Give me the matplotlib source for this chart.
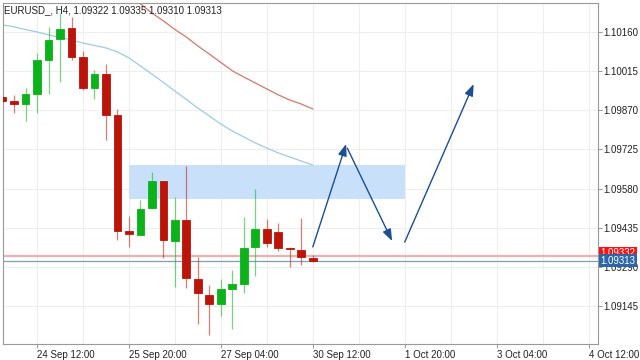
import matplotlib
matplotlib.use('Agg')
import matplotlib.pyplot as plt
from matplotlib.patches import FancyArrowPatch, Rectangle
import numpy as np

plt.rcParams['font.family'] = ['Liberation Sans', 'DejaVu Sans']

# H4 candles, bar index relative to 24 Sep 12:00
idx = list(range(-3, 25))
opens = [1.09919, 1.09904, 1.09893, 1.09930, 1.10056, 1.10134, 1.10175, 1.10067,
         1.09953, 1.10004, 1.09853, 1.09423, 1.09408, 1.09508, 1.09608, 1.09386,
         1.09464, 1.09245, 1.09186, 1.09152, 1.09208, 1.09227, 1.09364, 1.09430,
         1.09419, 1.09360, 1.09352, 1.09322]
highs = [1.09923, 1.09927, 1.09953, 1.10082, 1.10179, 1.10230, 1.10216, 1.10090,
         1.10019, 1.10041, 1.09875, 1.09478, 1.09538, 1.09641, 1.09608, 1.09549,
         1.09664, 1.09327, 1.09223, 1.09245, 1.09278, 1.09475, 1.09578, 1.09467,
         1.09453, 1.09364, 1.09471, 1.09335]
lows = [1.09901, 1.09860, 1.09830, 1.09860, 1.09930, 1.09975, 1.10056, 1.09945,
        1.09912, 1.09760, 1.09390, 1.09364, 1.09408, 1.09508, 1.09323, 1.09215,
        1.09212, 1.09078, 1.09038, 1.09108, 1.09060, 1.09193, 1.09256, 1.09364,
        1.09349, 1.09290, 1.09297, 1.09310]
closes = [1.09904, 1.09893, 1.09930, 1.10056, 1.10130, 1.10171, 1.10067, 1.09953,
          1.10004, 1.09853, 1.09423, 1.09412, 1.09504, 1.09608, 1.09390, 1.09464,
          1.09249, 1.09193, 1.09152, 1.09208, 1.09227, 1.09360, 1.09430, 1.09378,
          1.09360, 1.09356, 1.09327, 1.09313]

# moving averages
ma_fast = [1.10186, 1.10179, 1.10169, 1.10160, 1.10149, 1.10140, 1.10130, 1.10119,
           1.10110, 1.10101, 1.10086, 1.10064, 1.10034, 1.10004, 1.09973, 1.09941,
           1.09910, 1.09878, 1.09849, 1.09819, 1.09793, 1.09771, 1.09749, 1.09730,
           1.09712, 1.09697, 1.09682, 1.09667]
ma_slow_idx = list(range(8, 25))
ma_slow = [1.10293, 1.10264, 1.10230, 1.10201, 1.10169, 1.10141, 1.10108, 1.10078,
           1.10047, 1.10016, 1.09993, 1.09971, 1.09949, 1.09927, 1.09908, 1.09893,
           1.09875]

ask = 1.09332
bid = 1.09313

# zone and projected path
zone_x = (8, 32)
zone_y = (1.09541, 1.09667)
arrows = [((24.0, 1.09364), (26.9, 1.09745)),
          ((27.0, 1.09730), (30.9, 1.09386)),
          ((32.0, 1.09382), (38.0, 1.09967))]

yticks = [1.09145, 1.09290, 1.09435, 1.09580, 1.09725, 1.09870, 1.10015, 1.10160]
xtick_pos = [0, 8, 16, 24, 32, 40, 48]
xtick_labels = ['24 Sep 12:00', '25 Sep 20:00', '27 Sep 04:00', '30 Sep 12:00',
                '1 Oct 20:00', '3 Oct 04:00', '4 Oct 12:00']

green = '#0cb21a'
red = '#bb1408'

fig = plt.figure(figsize=(6.4, 3.6), dpi=100)
ax = fig.add_axes([0.004, 0.044, 0.93, 0.949])

# grid
for gx in range(-4, 49, 4):
    ax.axvline(gx, color='#eeeeee', lw=0.8, zorder=0)
for gy in yticks:
    ax.axhline(gy, color='#eeeeee', lw=0.8, zorder=0)

ax.add_patch(Rectangle((zone_x[0], zone_y[0]), zone_x[1] - zone_x[0], zone_y[1] - zone_y[0],
                       facecolor='#c9e0fa', edgecolor='none', zorder=1))

ax.plot(idx, ma_fast, color='#9ccbe8', lw=0.9, zorder=2)
ax.plot(ma_slow_idx, ma_slow, color='#d0786c', lw=0.9, zorder=2)

ax.axhline(ask, color='#f0b0b0', lw=1.6, zorder=2)
ax.axhline(bid, color='#7f9fb5', lw=0.9, zorder=2)

for i, o, h, l, c in zip(idx, opens, highs, lows, closes):
    col = green if c >= o else red
    ax.vlines(i, l, h, color=col, lw=0.9, alpha=0.55, zorder=3)
    ax.bar(i, max(abs(c - o), 0.00003), bottom=min(o, c), width=0.68,
           color=col, edgecolor=col, lw=0.6, zorder=4)

for (x0, y0), (x1, y1) in arrows:
    ax.add_patch(FancyArrowPatch((x0, y0), (x1, y1), arrowstyle='-|>,head_length=7,head_width=2.6',
                                 color='#1a4f94', lw=1.0, shrinkA=0, shrinkB=0, zorder=5))

ax.set_xlim(-3.0, 48.8)
ax.set_ylim(1.09004, 1.10269)

ax.yaxis.tick_right()
ax.set_yticks(yticks)
ax.set_yticklabels([f'{v:.5f}' for v in yticks])
ax.set_xticks(xtick_pos)
ax.set_xticklabels(xtick_labels, ha='left')
ax.tick_params(axis='both', labelsize=7, color='#888888', length=3, width=0.6, pad=1.5, labelcolor='#222222')
ax.tick_params(axis='y', pad=1)

for s in ax.spines.values():
    s.set_color('#999999')
    s.set_linewidth(0.8)

ax.text(0.003, 0.992, 'EURUSD_, H4, 1.09322 1.09335 1.09310 1.09313', transform=ax.transAxes,
        fontsize=7, va='top', ha='left', color='#222222', zorder=6)

# price labels on the right
ax.annotate(f'{ask:.5f}', xy=(1.0, ask), xycoords=('axes fraction', 'data'),
            xytext=(2, 1.5), textcoords='offset points', fontsize=7, color='white', va='center',
            bbox=dict(boxstyle='square,pad=0.15', fc='#ff1010', ec='none'), zorder=7,
            annotation_clip=False)
ax.annotate(f'{bid:.5f}', xy=(1.0, bid), xycoords=('axes fraction', 'data'),
            xytext=(2, 0), textcoords='offset points', fontsize=7, color='white', va='center',
            bbox=dict(boxstyle='square,pad=0.15', fc='#2a66a8', ec='none'), zorder=8,
            annotation_clip=False)

fig.savefig('out.png', dpi=100)
